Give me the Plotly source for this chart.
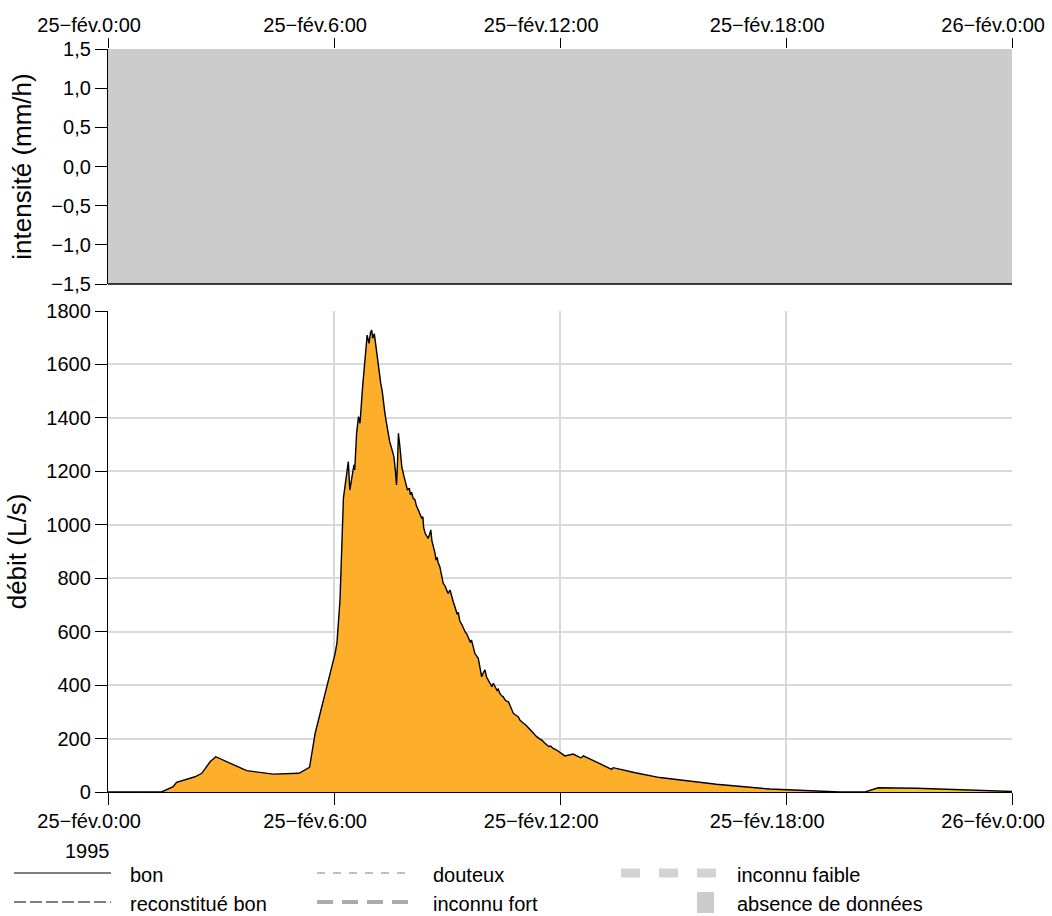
import numpy as np
import pandas as pd
import plotly.graph_objects as go

# Débit (L/s) du 25 février 1995, temps en heures depuis minuit
heures = [
    0.00, 1.42, 1.73, 1.82, 2.31, 2.49, 2.71, 2.86, 3.68, 4.39, 5.07, 5.35, 5.50,
    5.75, 6.00, 6.03, 6.08, 6.16, 6.25, 6.32, 6.38, 6.42, 6.47, 6.53, 6.55, 6.60,
    6.65, 6.69, 6.76, 6.82, 6.88, 6.93, 6.97, 7.00, 7.03, 7.07, 7.10, 7.13, 7.19,
    7.24, 7.28, 7.31, 7.35, 7.38, 7.44, 7.48, 7.53, 7.59, 7.63, 7.66, 7.69, 7.71,
    7.75, 7.80, 7.86, 7.90, 7.95, 8.00, 8.03, 8.06, 8.10, 8.15, 8.19, 8.24, 8.28,
    8.33, 8.36, 8.38, 8.42, 8.46, 8.50, 8.54, 8.57, 8.60, 8.64, 8.68, 8.71, 8.74,
    8.76, 8.81, 8.85, 8.88, 8.90, 8.95, 9.00, 9.03, 9.08, 9.12, 9.15, 9.17, 9.21,
    9.27, 9.30, 9.34, 9.40, 9.44, 9.48, 9.53, 9.58, 9.62, 9.65, 9.70, 9.74, 9.78,
    9.83, 9.87, 9.92, 9.96, 10.01, 10.05, 10.10, 10.15, 10.19, 10.23, 10.28,
    10.33, 10.36, 10.40, 10.45, 10.49, 10.54, 10.58, 10.63, 10.68, 10.72, 10.76,
    10.80, 10.85, 10.89, 10.94, 10.98, 11.03, 11.10, 11.15, 11.20, 11.28, 11.33,
    11.38, 11.45, 11.51, 11.58, 11.65, 11.70, 11.75, 11.82, 11.90, 12.00, 12.13,
    12.35, 12.55, 12.58, 12.62, 13.00, 13.37, 13.41, 14.00, 14.65, 15.18, 16.15,
    17.57, 18.81, 19.43, 20.10, 20.45, 21.47, 24.00,
]
debit = [
    0, 0, 20, 36, 57, 70, 113, 132, 80, 67, 70, 92, 220,
    365, 500, 519, 560, 720, 1100, 1180, 1236, 1130, 1168, 1224, 1205, 1342,
    1405, 1380, 1517, 1617, 1710, 1679, 1720, 1729, 1698, 1715, 1680, 1654, 1579,
    1530, 1500, 1455, 1420, 1392, 1342, 1310, 1286, 1255, 1200, 1149, 1250, 1342,
    1292, 1217, 1180, 1160, 1130, 1137, 1112, 1122, 1100, 1093, 1070, 1055, 1040,
    1024, 1030, 990, 968, 960, 949, 965, 981, 940, 918, 895, 868, 878,
    860, 843, 815, 800, 781, 770, 750, 743, 756, 731, 722, 710, 693,
    665, 672, 640, 625, 610, 600, 590, 575, 560, 569, 540, 519, 510,
    500, 470, 431, 445, 457, 430, 415, 400, 394, 407, 390,
    380, 385, 370, 360, 357, 345, 340, 338, 320, 305, 295,
    290, 285, 282, 268, 262, 257, 250, 242, 238, 225, 215,
    207, 200, 195, 185, 176, 170, 172, 163, 158, 149, 135,
    142, 128, 130, 135, 110, 85, 91, 72, 54, 45, 29,
    11, 5, 0, 0, 16, 14, 2,
]

# Début de la portion « faible » (remplissage jaune)
debut_jaune = 20.10

# Période sans données de pluie (heures)
absence_debut = [0.0]
absence_fin = [24.0]

tick_heures = [0, 6, 12, 18, 24]
tick_textes = ["25\u2212fév.0:00", "25\u2212fév.6:00", "25\u2212fév.12:00",
               "25\u2212fév.18:00", "26\u2212fév.0:00"]
pluie_ticks = [-1.5, -1.0, -0.5, 0.0, 0.5, 1.0, 1.5]
pluie_textes = ["\u22121,5", "\u22121,0", "\u22120,5", "0,0", "0,5", "1,0", "1,5"]

# décalage d'affichage des étiquettes de dates (heures, vers la gauche)
decalage_etiquettes = 0.5

origine = pd.Timestamp("1995-02-25 00:00")


def t(h):
    return origine + pd.to_timedelta(np.asarray(h, dtype=float), unit="h")


h = np.array(heures)
q = np.array(debit)
m_or = h <= debut_jaune
m_ja = h >= debut_jaune

FONT = "Liberation Sans, Arial, sans-serif"
TICK = 20
TITRE = 26
LEG = 20
W, H = 1052, 916
ML, R, T, B = 60, 40, 49, 124        # marges de la page
X0 = 108                              # bord gauche des panneaux
PW, PH = W - ML - R, H - T - B


def px(x):
    return (x - ML) / PW


def py(y):
    return (H - B - y) / PH


dom_x = [px(X0), 1]
bas_dom = [0, py(311)]
haut_dom = [py(284), 1]

# axe d'étiquettes couvrant toute la largeur utile (y compris la marge gauche)
px_par_heure = (W - R - X0) / 24
h_gauche = -(X0 - ML) / px_par_heure
tickvals = list(t(tick_heures))
labelvals = list(t(np.array(tick_heures) - decalage_etiquettes))
xrange_ = [t(0), t(24)]
xrange_lab = [t(h_gauche), t(24)]

fig = go.Figure()

# Panneau pluie : absence de données
for a, b in zip(absence_debut, absence_fin):
    fig.add_trace(go.Scatter(
        x=t([a, b, b, a, a]), y=[-1.5, -1.5, 1.5, 1.5, -1.5],
        xaxis="x2", yaxis="y2", mode="lines", fill="toself",
        fillcolor="#CCCCCC", line=dict(width=0), hoverinfo="skip",
        showlegend=False))

# Panneau débit
fig.add_trace(go.Scatter(
    x=t(h[m_or]), y=q[m_or], mode="lines", fill="tozeroy",
    fillcolor="#FDAE2A", line=dict(width=0), showlegend=False))
fig.add_trace(go.Scatter(
    x=t(h[m_ja]), y=q[m_ja], mode="lines", fill="tozeroy",
    fillcolor="#F6C81C", line=dict(width=0), showlegend=False))
fig.add_trace(go.Scatter(
    x=t(h), y=q, mode="lines", line=dict(color="black", width=1.4),
    showlegend=False))

# Axes porteurs des étiquettes de dates (sans marque ni grille)
fig.add_trace(go.Scatter(x=labelvals, y=[None] * len(labelvals),
                         xaxis="x3", yaxis="y3", mode="markers",
                         hoverinfo="skip", showlegend=False))
fig.add_trace(go.Scatter(x=labelvals, y=[None] * len(labelvals),
                         xaxis="x4", yaxis="y4", mode="markers",
                         hoverinfo="skip", showlegend=False))

lab_x = dict(domain=[0, 1], range=xrange_lab, automargin=False,
             showgrid=False, zeroline=False, showline=False, ticks="",
             tickvals=labelvals, ticktext=tick_textes,
             tickfont=dict(size=TICK), fixedrange=True)
lab_y = dict(visible=False, showgrid=False, zeroline=False, range=[0, 1],
             automargin=False, fixedrange=True)

fig.update_layout(
    width=W, height=H,
    margin=dict(l=ML, r=R, t=T, b=B, pad=0, autoexpand=False),
    paper_bgcolor="white", plot_bgcolor="rgba(0,0,0,0)",
    font=dict(family=FONT, size=TICK, color="black"),
    xaxis=dict(domain=dom_x, anchor="y", range=xrange_, automargin=False,
               tickvals=tickvals, showticklabels=False,
               ticks="outside", ticklen=12, tickcolor="black", tickwidth=1,
               showline=True, linecolor="black", linewidth=1.3,
               showgrid=True, gridcolor="#D9D9D9", gridwidth=1.5,
               zeroline=False),
    xaxis3=dict(lab_x, anchor="y3", side="bottom", ticklabelstandoff=15),
    yaxis3=dict(lab_y, domain=bas_dom, anchor="x3"),
    yaxis=dict(domain=bas_dom, anchor="x", range=[0, 1800], automargin=False,
               tickvals=list(range(0, 1801, 200)),
               ticks="outside", ticklen=12, tickcolor="black", tickwidth=1,
               showline=True, linecolor="black", linewidth=1.3,
               showgrid=True, gridcolor="#D9D9D9", gridwidth=1.5,
               zeroline=False, tickfont=dict(size=TICK),
               title=dict(text="débit (L/s)", font=dict(size=TITRE),
                          standoff=12)),
    xaxis2=dict(domain=dom_x, anchor="y2", side="top", range=xrange_,
                automargin=False, tickvals=tickvals, showticklabels=False,
                ticks="outside", ticklen=10, tickcolor="black", tickwidth=1,
                showline=False, showgrid=False, zeroline=False),
    xaxis4=dict(lab_x, anchor="y4", side="top", ticklabelstandoff=12),
    yaxis4=dict(lab_y, domain=haut_dom, anchor="x4"),
    yaxis2=dict(domain=haut_dom, anchor="x2", range=[-1.5, 1.5],
                automargin=False,
                tickvals=pluie_ticks, ticktext=pluie_textes,
                ticks="outside", ticklen=12, tickcolor="black", tickwidth=1,
                showline=True, linecolor="black", linewidth=1.3,
                showgrid=False, zeroline=False, tickfont=dict(size=TICK),
                title=dict(text="intensité (mm/h)", font=dict(size=TITRE),
                           standoff=12)),
)

shapes = [
    # trait bas du panneau pluie
    dict(type="line", xref="paper", yref="paper", x0=dom_x[0], x1=1,
         y0=haut_dom[0], y1=haut_dom[0], line=dict(color="black", width=1.3)),
]

# Légende des qualités
row1, row2 = 873, 902
legende_lignes = [
    (14, 111, row1, "black", 1.2, "solid"),
    (14, 111, row2, "black", 1.2, "12px,4px"),
    (317, 408, row1, "#AAAAAA", 1.5, "8px,8px"),
    (317, 409, row2, "#ABABAB", 4, "16px,9px"),
    (621, 716, row1, "#D3D3D3", 9, "19px,19px"),
]
for x0, x1, y, c, w, d in legende_lignes:
    shapes.append(dict(type="line", xref="paper", yref="paper",
                       x0=px(x0), x1=px(x1), y0=py(y), y1=py(y),
                       line=dict(color=c, width=w, dash=d)))
shapes.append(dict(type="rect", xref="paper", yref="paper",
                   x0=px(697), x1=px(714), y0=py(913), y1=py(892),
                   fillcolor="#CCCCCC", line=dict(width=0)))
fig.update_layout(shapes=shapes)

legende_textes = [
    (128, row1 + 2, "bon"),
    (128, row2 + 2, "reconstitué bon"),
    (431, row1 + 2, "douteux"),
    (431, row2 + 2, "inconnu fort"),
    (735, row1 + 2, "inconnu faible"),
    (735, row2 + 2, "absence de données"),
]
annotations = [dict(xref="paper", yref="paper", x=px(x), y=py(y), text=s,
                    showarrow=False, xanchor="left", yanchor="middle",
                    font=dict(size=LEG))
               for x, y, s in legende_textes]
annotations.append(dict(xref="paper", yref="paper", x=px(112), y=py(851),
                        text="1995", showarrow=False, xanchor="right",
                        yanchor="middle", font=dict(size=LEG)))
fig.update_layout(annotations=annotations)

fig.write_html("out.html")
